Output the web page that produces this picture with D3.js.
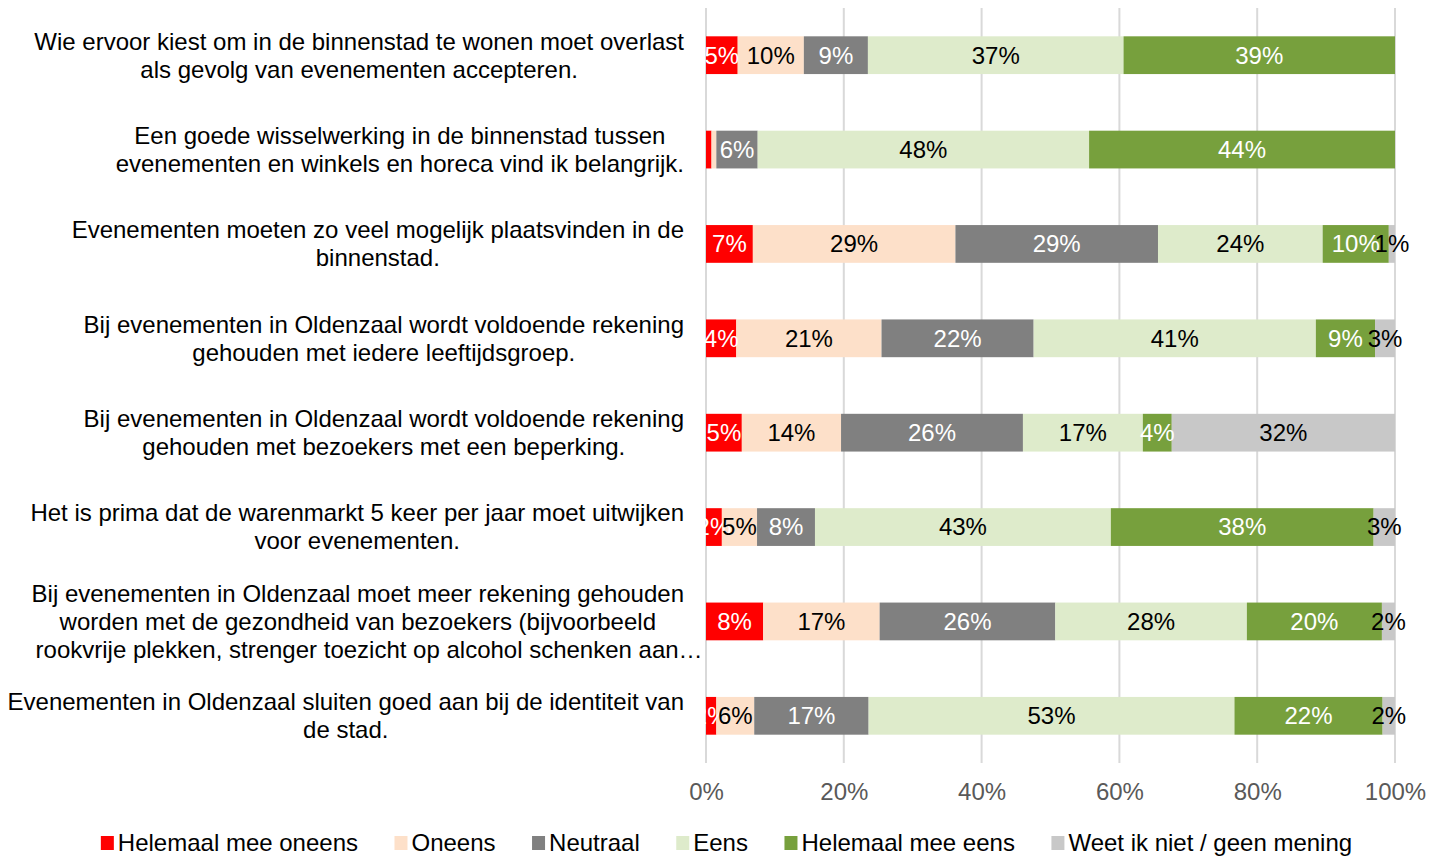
<!DOCTYPE html>
<html>
<head>
<meta charset="utf-8">
<script src="https://cdn.jsdelivr.net/npm/d3@7"></script>
<style>
  html, body { margin: 0; padding: 0; background: #fff; }
  svg { display: block; font-family: "Liberation Sans", Arial, sans-serif; }
</style>
</head>
<body>
<svg id="chart" width="1440" height="856"></svg>
<script>
// ---------- data ----------
const categories = [
  ["Wie ervoor kiest om in de binnenstad te wonen moet overlast", "als gevolg van evenementen accepteren."],
  ["Een goede wisselwerking in de binnenstad tussen", "evenementen en winkels en horeca vind ik belangrijk."],
  ["Evenementen moeten zo veel mogelijk plaatsvinden in de", "binnenstad."],
  ["Bij evenementen in Oldenzaal wordt voldoende rekening", "gehouden met iedere leeftijdsgroep."],
  ["Bij evenementen in Oldenzaal wordt voldoende rekening", "gehouden met bezoekers met een beperking."],
  ["Het is prima dat de warenmarkt 5 keer per jaar moet uitwijken", "voor evenementen."],
  ["Bij evenementen in Oldenzaal moet meer rekening gehouden", "worden met de gezondheid van bezoekers (bijvoorbeeld", "rookvrije plekken, strenger toezicht op alcohol schenken aan\u2026"],
  ["Evenementen in Oldenzaal sluiten goed aan bij de identiteit van", "de stad."]
];
const seriesNames = ["Helemaal mee oneens", "Oneens", "Neutraal", "Eens", "Helemaal mee eens", "Weet ik niet / geen mening"];
const seriesColors = ["#FF0000", "#FDE0C9", "#808080", "#DEEBCB", "#77A03D", "#C8C8C8"];
const labelColors = ["#FFFFFF", "#000000", "#FFFFFF", "#000000", "#FFFFFF", "#000000"];

// percentages per statement (labels are the rounded values)
const helemaalOneens = [4.6, 0.8, 6.8, 4.4, 5.2, 2.3, 8.3, 1.5];
const oneens         = [9.6, 0.7, 29.4, 21.1, 14.4, 5.1, 16.9, 5.5];
const neutraal       = [9.3, 6.0, 29.4, 22.1, 26.4, 8.4, 25.5, 16.6];
const eens           = [37.1, 48.1, 23.9, 41.0, 17.4, 42.9, 27.8, 53.1];
const helemaalEens   = [39.4, 44.4, 9.6, 8.6, 4.2, 38.1, 19.6, 21.5];
const weetNiet       = [0, 0, 0.9, 2.9, 32.4, 3.1, 1.9, 1.8];
// data labels not shown in the reference: [statementIndex, seriesIndex]
const hiddenLabels = [[1, 0], [1, 1]];

const xTicks = [0, 0.2, 0.4, 0.6, 0.8, 1.0];

// ---------- layout ----------
const svg = d3.select("#chart");
const plotLeft = 706, plotRight = 1395, plotTop = 8, plotBottom = 763;
const FONT = 24;

const seriesValues = [helemaalOneens, oneens, neutraal, eens, helemaalEens, weetNiet];
const rows = categories.map((c, i) => {
  const vals = seriesValues.map(s => s[i]);
  const total = d3.sum(vals);
  let cum = 0;
  return vals.map((v, j) => {
    const seg = { cat: i, ser: j, value: v, x0: cum / total, x1: (cum + v) / total };
    cum += v;
    return seg;
  });
});

const x = d3.scaleLinear().domain([0, 1]).range([plotLeft, plotRight]);
const y = d3.scaleBand().domain(d3.range(categories.length)).range([plotTop, plotBottom])
  .paddingInner(0.6).paddingOuter(0.3);

// gridlines
svg.append("g").selectAll("line").data(xTicks).join("line")
  .attr("x1", d => x(d)).attr("x2", d => x(d))
  .attr("y1", plotTop).attr("y2", plotBottom)
  .attr("stroke", "#D9D9D9").attr("stroke-width", 2);

// bars
const segs = rows.flat().filter(s => s.value > 0);
svg.append("g").selectAll("rect").data(segs).join("rect")
  .attr("x", d => x(d.x0)).attr("width", d => x(d.x1) - x(d.x0))
  .attr("y", d => y(d.cat)).attr("height", y.bandwidth())
  .attr("fill", d => seriesColors[d.ser]);

// data labels
const isHidden = d => hiddenLabels.some(h => h[0] === d.cat && h[1] === d.ser);
svg.append("g").selectAll("text").data(segs.filter(d => !isHidden(d))).join("text")
  .attr("x", d => (x(d.x0) + x(d.x1)) / 2)
  .attr("y", d => y(d.cat) + y.bandwidth() / 2)
  .attr("dy", "0.35em")
  .attr("text-anchor", "middle")
  .attr("font-size", FONT)
  .attr("fill", d => labelColors[d.ser])
  .text(d => Math.round(d.value) + "%");

// x axis (labels only)
const xAxis = d3.axisBottom(x).tickValues(xTicks).tickFormat(d3.format(".0%")).tickSize(0).tickPadding(0);
const gx = svg.append("g").attr("transform", `translate(0, 792)`).call(xAxis);
gx.select(".domain").remove();
gx.selectAll("text").attr("font-size", FONT).attr("fill", "#595959")
  .attr("font-family", "Liberation Sans, Arial, sans-serif").attr("dy", "0.35em").attr("y", 0);

// category labels
const catG = svg.append("g");
const lineH = 28, labelRight = 684;
categories.forEach((lines, i) => {
  const cy = y(i) + y.bandwidth() / 2;
  const g = catG.append("g");
  const texts = lines.map((t, k) => g.append("text")
    .attr("font-size", FONT).attr("fill", "#000")
    .attr("y", cy + (k - (lines.length - 1) / 2) * lineH)
    .attr("dy", "0.35em").text(t));
  const widths = texts.map(t => t.node().getComputedTextLength());
  const maxW = d3.max(widths.filter((w, k) => !lines[k].endsWith("\u2026")));
  const center = labelRight - maxW / 2;
  texts.forEach((t, k) => {
    if (lines[k].endsWith("\u2026")) {
      t.attr("text-anchor", "start").attr("x", center - maxW / 2 + 4);
    } else {
      t.attr("text-anchor", "middle").attr("x", center);
    }
  });
});

// legend
const legG = svg.append("g");
const legY = 843, sq = 13, sqGap = 4, itemGap = 36.5;
let lx = 0;
seriesNames.forEach((name, j) => {
  const it = legG.append("g");
  it.append("rect").attr("x", 0).attr("y", legY - 7).attr("width", sq).attr("height", 14)
    .attr("fill", seriesColors[j]);
  const t = it.append("text").attr("x", sq + sqGap).attr("y", legY).attr("dy", "0.35em")
    .attr("font-size", FONT).attr("fill", "#000").text(name);
  const w = sq + sqGap + t.node().getComputedTextLength();
  it.attr("transform", `translate(${lx},0)`);
  lx += w + itemGap;
});
const totalW = lx - itemGap;
legG.attr("transform", `translate(${726.5 - totalW / 2},0)`);
</script>
</body>
</html>
